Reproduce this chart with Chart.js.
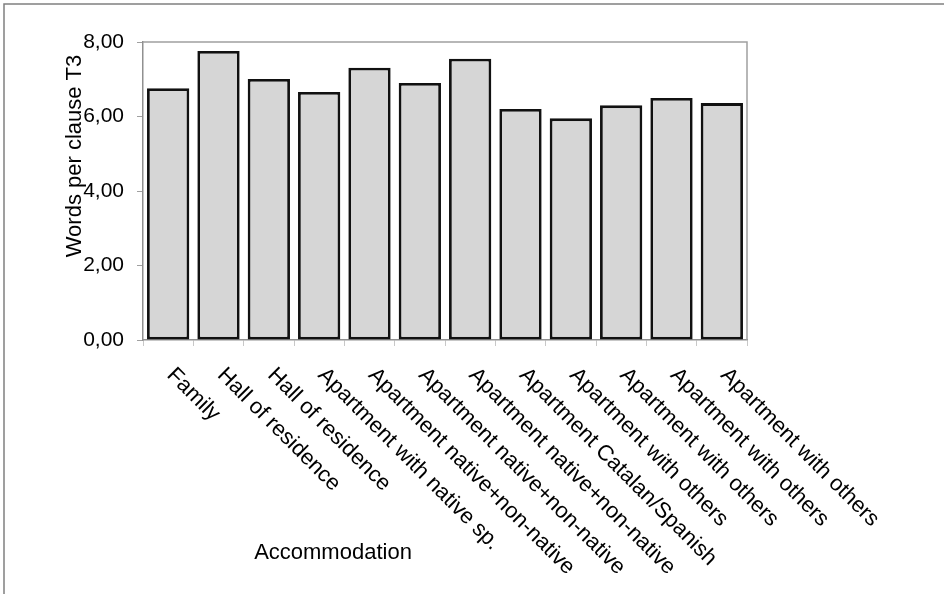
<!DOCTYPE html>
<html>
<head>
<meta charset="utf-8">
<style>
html,body{margin:0;padding:0;background:#fff;}
#wrap{position:relative;width:944px;height:594px;}
canvas{display:block;}
</style>
<script src="https://cdn.jsdelivr.net/npm/chart.js@4/dist/chart.umd.min.js"></script>
</head>
<body>
<div id="wrap"><canvas id="c" width="944" height="594"></canvas></div>
<script>
const categories = [
  "Family",
  "Hall of residence",
  "Hall of residence",
  "Apartment with native sp.",
  "Apartment native+non-native",
  "Apartment native+non-native",
  "Apartment native+non-native",
  "Apartment Catalan/Spanish",
  "Apartment with others",
  "Apartment with others",
  "Apartment with others",
  "Apartment with others"
];
const wordsPerClause = [6.76, 7.76, 7.01, 6.66, 7.31, 6.90, 7.55, 6.20, 5.95, 6.30, 6.50, 6.36];
const yTickValues = [0, 2, 4, 6, 8];
const yTickLabels = ["0,00", "2,00", "4,00", "6,00", "8,00"];
const xAxisTitle = "Accommodation";
const yAxisTitle = "Words per clause T3";

const FONT = '"Liberation Sans", Arial, Helvetica, sans-serif';

const decorPlugin = {
  id: 'decor',
  beforeDraw(chart) {
    const ctx = chart.ctx;
    ctx.save();
    ctx.fillStyle = '#fff';
    ctx.fillRect(0, 0, chart.width, chart.height);
    ctx.strokeStyle = '#808080';
    ctx.lineWidth = 1.5;
    ctx.beginPath();
    ctx.moveTo(4, chart.height);
    ctx.lineTo(4, 4);
    ctx.lineTo(chart.width, 4);
    ctx.stroke();
    ctx.restore();
  },
  afterDatasetsDraw(chart) {
    const ctx = chart.ctx;
    const a = chart.chartArea;
    ctx.save();
    ctx.strokeStyle = '#a0a0a0';
    ctx.lineWidth = 1.5;
    ctx.beginPath();
    ctx.moveTo(a.left, a.top);
    ctx.lineTo(a.right, a.top);
    ctx.lineTo(a.right, a.bottom);
    ctx.stroke();
    ctx.restore();
  },
  afterDraw(chart) {
    const ctx = chart.ctx;
    const xs = chart.scales.x;
    ctx.save();
    ctx.fillStyle = '#000';
    ctx.font = '22px ' + FONT;
    ctx.textAlign = 'left';
    ctx.textBaseline = 'top';
    categories.forEach((lab, i) => {
      const x = xs.getPixelForValue(i) + 10;
      const y = chart.chartArea.bottom + 24;
      ctx.save();
      ctx.translate(x, y);
      ctx.rotate(Math.PI / 4);
      ctx.fillText(lab, 0, 0);
      ctx.restore();
    });
    // axis titles
    ctx.font = '22px ' + FONT;
    ctx.textAlign = 'center';
    ctx.textBaseline = 'middle';
    ctx.fillText(xAxisTitle, 333, 553);
    ctx.save();
    ctx.translate(75, 156);
    ctx.rotate(-Math.PI / 2);
    ctx.fillText(yAxisTitle, 0, 0);
    ctx.restore();
    ctx.restore();
  }
};

new Chart(document.getElementById('c'), {
  type: 'bar',
  data: {
    labels: categories,
    datasets: [{
      data: wordsPerClause,
      backgroundColor: '#d6d6d6',
      borderColor: '#111111',
      borderWidth: 2.8,
      borderSkipped: false,
      barPercentage: 0.84,
      categoryPercentage: 1.0
    }]
  },
  options: {
    responsive: false,
    animation: false,
    devicePixelRatio: 1,
    layout: { padding: { left: 0, top: 42, right: 197, bottom: 0 } },
    plugins: { legend: { display: false }, tooltip: { enabled: false } },
    scales: {
      x: {
        offset: true,
        grid: { offset: true, drawOnChartArea: false, tickLength: 6, color: '#c8c8c8', lineWidth: 1 },
        border: { color: '#909090', width: 1.5 },
        ticks: { display: false },
        afterFit(s) { s.height = 594 - 42 - 298; }
      },
      y: {
        min: 0, max: 8,
        afterBuildTicks(s) { s.ticks = yTickValues.map(v => ({ value: v })); },
        grid: { drawOnChartArea: false, tickLength: 6, color: '#a0a0a0', lineWidth: 1 },
        border: { color: '#909090', width: 1.5 },
        ticks: {
          color: '#000',
          padding: 13,
          font: { family: FONT, size: 21 },
          callback(v) { const i = yTickValues.indexOf(v); return i >= 0 ? yTickLabels[i] : ''; }
        },
        afterFit(s) { s.width = 143; }
      }
    }
  },
  plugins: [decorPlugin]
});
</script>
</body>
</html>
